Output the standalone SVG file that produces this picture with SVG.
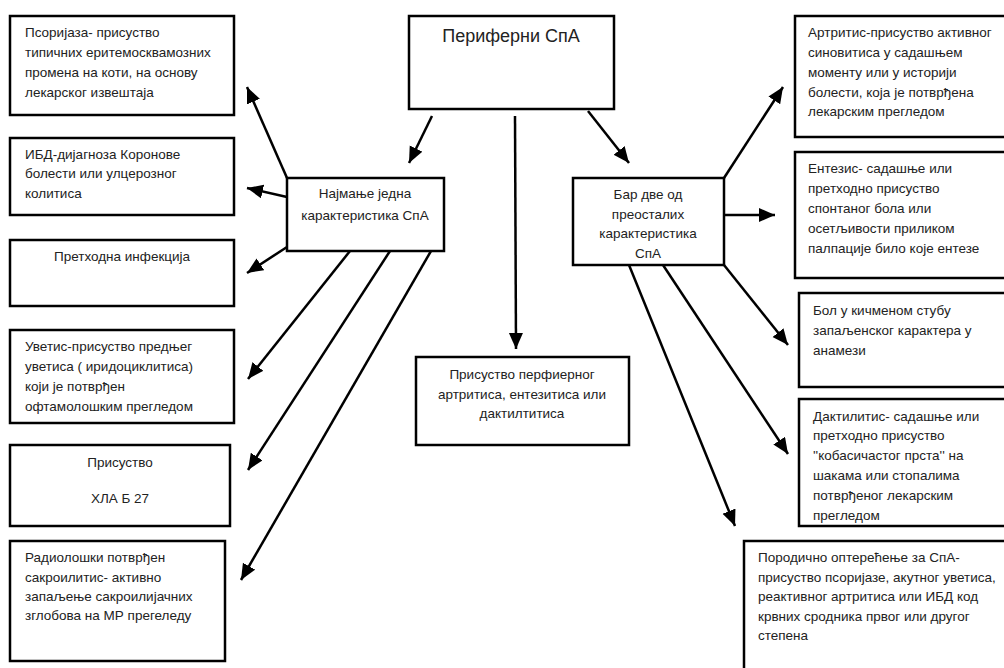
<svg xmlns="http://www.w3.org/2000/svg" width="1004" height="668" viewBox="0 0 1004 668">
<defs>
<style>
.box{fill:#fff;stroke:#000;stroke-width:2.5}
text{font-family:"Liberation Sans","DejaVu Sans",sans-serif;font-size:13.5px;fill:#222}
.c{text-anchor:middle}
.t{font-size:18px}
.con line{stroke:#000;stroke-width:2.5}
</style>
<marker id="ah" markerUnits="userSpaceOnUse" markerWidth="18" markerHeight="16" refX="16" refY="7" orient="auto">
<path d="M0,0 L16,7 L0,14 Z" fill="#000"/>
</marker>
</defs>
<rect width="1004" height="668" fill="#fff"/>

<g id="n-top"><rect class="box" x="409" y="16" width="205" height="93"/><text class="c t" x="511" y="42">Периферни СпА</text></g>
<g id="n-left"><rect class="box" x="287" y="178" width="157" height="73"/><text class="c" x="365" y="198">Најмање једна</text><text class="c" x="365" y="220">карактеристика СпА</text></g>
<g id="n-right"><rect class="box" x="573" y="178" width="151" height="87"/><text class="c" x="648" y="199">Бар две од</text><text class="c" x="648" y="219">преосталих</text><text class="c" x="648" y="238">карактеристика</text><text class="c" x="648" y="258">СпА</text></g>
<g id="n-center"><rect class="box" x="416" y="357" width="213" height="88"/><text class="c" x="522" y="379">Присуство перфиерног</text><text class="c" x="522" y="399">артритиса, ентезитиса или</text><text class="c" x="522" y="418">дактилтитиса</text></g>

<g id="l1"><rect class="box" x="10" y="16" width="224" height="99"/><text x="25" y="37">Псоријаза- присуство</text><text x="25" y="57">типичних еритемосквамозних</text><text x="25" y="77">промена на коти, на основу</text><text x="25" y="97">лекарског извештаја</text></g>
<g id="l2"><rect class="box" x="10" y="138" width="224" height="77"/><text x="25" y="159">ИБД-дијагноза Коронове</text><text x="25" y="178">болести или улцерозног</text><text x="25" y="198">колитиса</text></g>
<g id="l3"><rect class="box" x="10" y="240" width="224" height="66"/><text class="c" x="122" y="261">Претходна инфекција</text></g>
<g id="l4"><rect class="box" x="10" y="330" width="224" height="93"/><text x="25" y="351">Уветис-присуство предњег</text><text x="25" y="371">уветиса ( иридоциклитиса)</text><text x="25" y="391">који је потврђен</text><text x="25" y="411">офтамолошким прегледом</text></g>
<g id="l5"><rect class="box" x="10" y="445" width="220" height="81"/><text class="c" x="120" y="467">Присуство</text><text class="c" x="120" y="503">ХЛА Б 27</text></g>
<g id="l6"><rect class="box" x="10" y="541" width="215" height="120"/><text x="25" y="562">Радиолошки потврђен</text><text x="25" y="582">сакроилитис- активно</text><text x="25" y="601">запаљење сакроилијачних</text><text x="25" y="620">зглобова на МР прегеледу</text></g>

<g id="r1"><rect class="box" x="795" y="16" width="215" height="121"/><text x="808" y="37">Артритис-присуство активног</text><text x="808" y="57">синовитиса у садашњем</text><text x="808" y="77">моменту или у историји</text><text x="808" y="97">болести, која је потврђена</text><text x="808" y="116">лекарским прегледом</text></g>
<g id="r2"><rect class="box" x="795" y="152" width="215" height="126"/><text x="808" y="173">Ентезис- садашње или</text><text x="808" y="193">претходно присуство</text><text x="808" y="213">спонтаног бола или</text><text x="808" y="233">осетљивости приликом</text><text x="808" y="253">палпације било које ентезе</text></g>
<g id="r3"><rect class="box" x="799" y="293" width="211" height="94"/><text x="813" y="315">Бол у кичменом стубу</text><text x="813" y="335">запаљенског карактера у</text><text x="813" y="355">анамези</text></g>
<g id="r4"><rect class="box" x="799" y="399" width="211" height="127"/><text x="813" y="421">Дактилитис- садашње или</text><text x="813" y="440">претходно присуство</text><text x="813" y="460">''кобасичастог прста'' на</text><text x="813" y="480">шакама или стопалима</text><text x="813" y="500">потврђеног лекарским</text><text x="813" y="520">прегледом</text></g>
<g id="r5"><rect class="box" x="744" y="541" width="266" height="140"/><text x="758" y="562">Породично оптерећење за СпА-</text><text x="758" y="582">присуство псоријазе, акутног уветиса,</text><text x="758" y="601">реактивног артритиса или ИБД код</text><text x="758" y="621">крвних сродника првог или другог</text><text x="758" y="640">степена</text></g>

<g id="connectors" class="con">
<line x1="432" y1="116" x2="409" y2="163" marker-end="url(#ah)"/>
<line x1="515" y1="116" x2="516" y2="349" marker-end="url(#ah)"/>
<line x1="588" y1="111" x2="629" y2="163" marker-end="url(#ah)"/>
<line x1="287" y1="178" x2="247" y2="87" marker-end="url(#ah)"/>
<line x1="287" y1="197" x2="247" y2="188" marker-end="url(#ah)"/>
<line x1="287" y1="247" x2="247" y2="273" marker-end="url(#ah)"/>
<line x1="350" y1="251" x2="248" y2="379" marker-end="url(#ah)"/>
<line x1="390" y1="251" x2="248" y2="470" marker-end="url(#ah)"/>
<line x1="431" y1="251" x2="241" y2="580" marker-end="url(#ah)"/>
<line x1="724" y1="178" x2="783" y2="87" marker-end="url(#ah)"/>
<line x1="724" y1="215" x2="775" y2="215" marker-end="url(#ah)"/>
<line x1="724" y1="265" x2="788" y2="345" marker-end="url(#ah)"/>
<line x1="663" y1="265" x2="788" y2="454" marker-end="url(#ah)"/>
<line x1="629" y1="265" x2="735" y2="526" marker-end="url(#ah)"/>
</g>
</svg>
